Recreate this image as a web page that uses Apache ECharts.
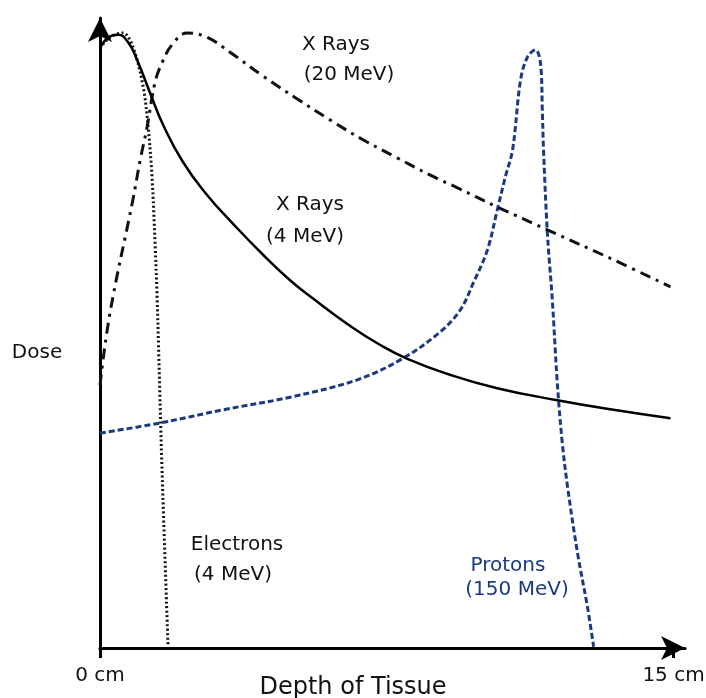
<!DOCTYPE html>
<html>
<head>
<meta charset="utf-8">
<script src="https://cdn.jsdelivr.net/npm/echarts@6/dist/echarts.min.js"></script>
<style>
  html, body { margin: 0; padding: 0; background: #fff; }
  #chart { width: 706px; height: 698px; }
</style>
</head>
<body>
<div id="chart"></div>
<script>
// depth in cm, dose in relative units
var xray4 = [[0, 100], [0.21, 101.7], [0.47, 102.2], [0.73, 101], [0.97, 98], [1.31, 92.5],
  [1.65, 87.2], [2.17, 81], [2.80, 75.5], [3.48, 70.7], [4.27, 65.5], [4.97, 61.3],
  [5.58, 58.2], [6.47, 54], [7.33, 50.5], [8.04, 48.2], [9.08, 45.7], [10.39, 43.3],
  [11.96, 41.3], [13.43, 39.7], [14.92, 38.3]];

var xray20 = [[0, 43.8], [0.26, 55.8], [0.86, 74.7], [1.05, 81.3], [1.23, 86.8], [1.44, 94.3],
  [1.62, 97.5], [1.88, 100.5], [2.28, 102.5], [2.80, 101.8], [3.40, 99.3], [4.27, 95.3],
  [5.16, 91.5], [6.02, 88], [6.88, 84.7], [7.77, 81.7], [8.64, 78.8], [9.35, 76.7],
  [10.39, 73.5], [11.70, 69.7], [13.43, 64.7], [14.92, 60.2]];

var electrons = [[0, 100], [0.26, 101.8], [0.6, 102.5], [0.86, 100.2], [1.13, 93.5], [1.26, 86.8],
  [1.36, 78.5], [1.44, 67.5], [1.49, 59.2], [1.53, 50.5], [1.62, 30.2], [1.78, 0.2]];

var protons = [[0, 35.8], [1.57, 37.5], [3.22, 39.7], [4.97, 41.8], [6.73, 44.7], [7.93, 48.3],
  [8.90, 52.7], [9.42, 56.3], [9.76, 60.8], [10.13, 66.3], [10.39, 73], [10.60, 78.5],
  [10.79, 83], [11.0, 94.7], [11.18, 98.5], [11.39, 99.7], [11.52, 97.5], [11.57, 89.2],
  [11.60, 83], [11.70, 69.2], [11.83, 58], [11.96, 44.2], [12.09, 34.2], [12.23, 26.8],
  [12.49, 15.8], [12.75, 6.8], [12.91, 0.2]];

var depthTicks = [0, 15];

var font = 'DejaVu Sans';
var navy = '#1b3a7e';

function label(text, x, y, color, size) {
  return {
    type: 'text',
    x: x, y: y,
    style: {
      text: text, fill: color || '#111', fontSize: size || 20, fontFamily: font,
      align: 'center', verticalAlign: 'middle'
    }
  };
}

var chart = echarts.init(document.getElementById('chart'));
var option = {
  animation: false,
  grid: { left: 100, right: 21, top: 18, bottom: 50, outerBoundsMode: 'none' },
  xAxis: {
    type: 'value', min: 0, max: 15.3,
    splitLine: { show: false },
    axisLine: {
      onZero: false,
      symbol: ['none', 'arrow'], symbolSize: [18, 24],
      lineStyle: { color: '#000', width: 3 }
    },
    axisTick: { customValues: depthTicks, length: 10, lineStyle: { color: '#000', width: 3 } },
    axisLabel: {
      customValues: depthTicks, margin: 18, color: '#111', fontSize: 20, fontFamily: font,
      formatter: function (v) { return v + ' cm'; }
    }
  },
  yAxis: {
    type: 'value', min: 0, max: 105,
    splitLine: { show: false },
    axisTick: { show: false },
    axisLabel: { show: false },
    axisLine: {
      show: true, onZero: false,
      symbol: ['none', 'arrow'], symbolSize: [18, 24],
      lineStyle: { color: '#000', width: 3 }
    }
  },
  series: [
    {
      name: 'Protons (150 MeV)', type: 'line', data: protons, smooth: 0.35,
      showSymbol: false,
      lineStyle: { color: navy, width: 3, type: [6, 3] }
    },
    {
      name: 'X Rays (20 MeV)', type: 'line', data: xray20, smooth: 0.4,
      showSymbol: false,
      lineStyle: { color: '#111', width: 3, type: [11, 6, 3, 6] }
    },
    {
      name: 'Electrons (4 MeV)', type: 'line', data: electrons, smooth: 0.35,
      showSymbol: false,
      lineStyle: { color: '#111', width: 3, type: [2, 2.5] }
    },
    {
      name: 'X Rays (4 MeV)', type: 'line', data: xray4, smooth: 0.5,
      showSymbol: false,
      lineStyle: { color: '#000', width: 2.5 }
    }
  ],
  graphic: [
    label('X Rays', 336, 45),
    label('(20 MeV)', 349, 75),
    label('X Rays', 310, 205),
    label('(4 MeV)', 305, 237),
    label('Electrons', 237, 545),
    label('(4 MeV)', 233, 575),
    label('Protons', 508, 566, navy),
    label('(150 MeV)', 517, 590, navy),
    label('Dose', 37, 353),
    label('Depth of Tissue', 353, 688, '#111', 24)
  ]
};
chart.setOption(option);
</script>
</body>
</html>
